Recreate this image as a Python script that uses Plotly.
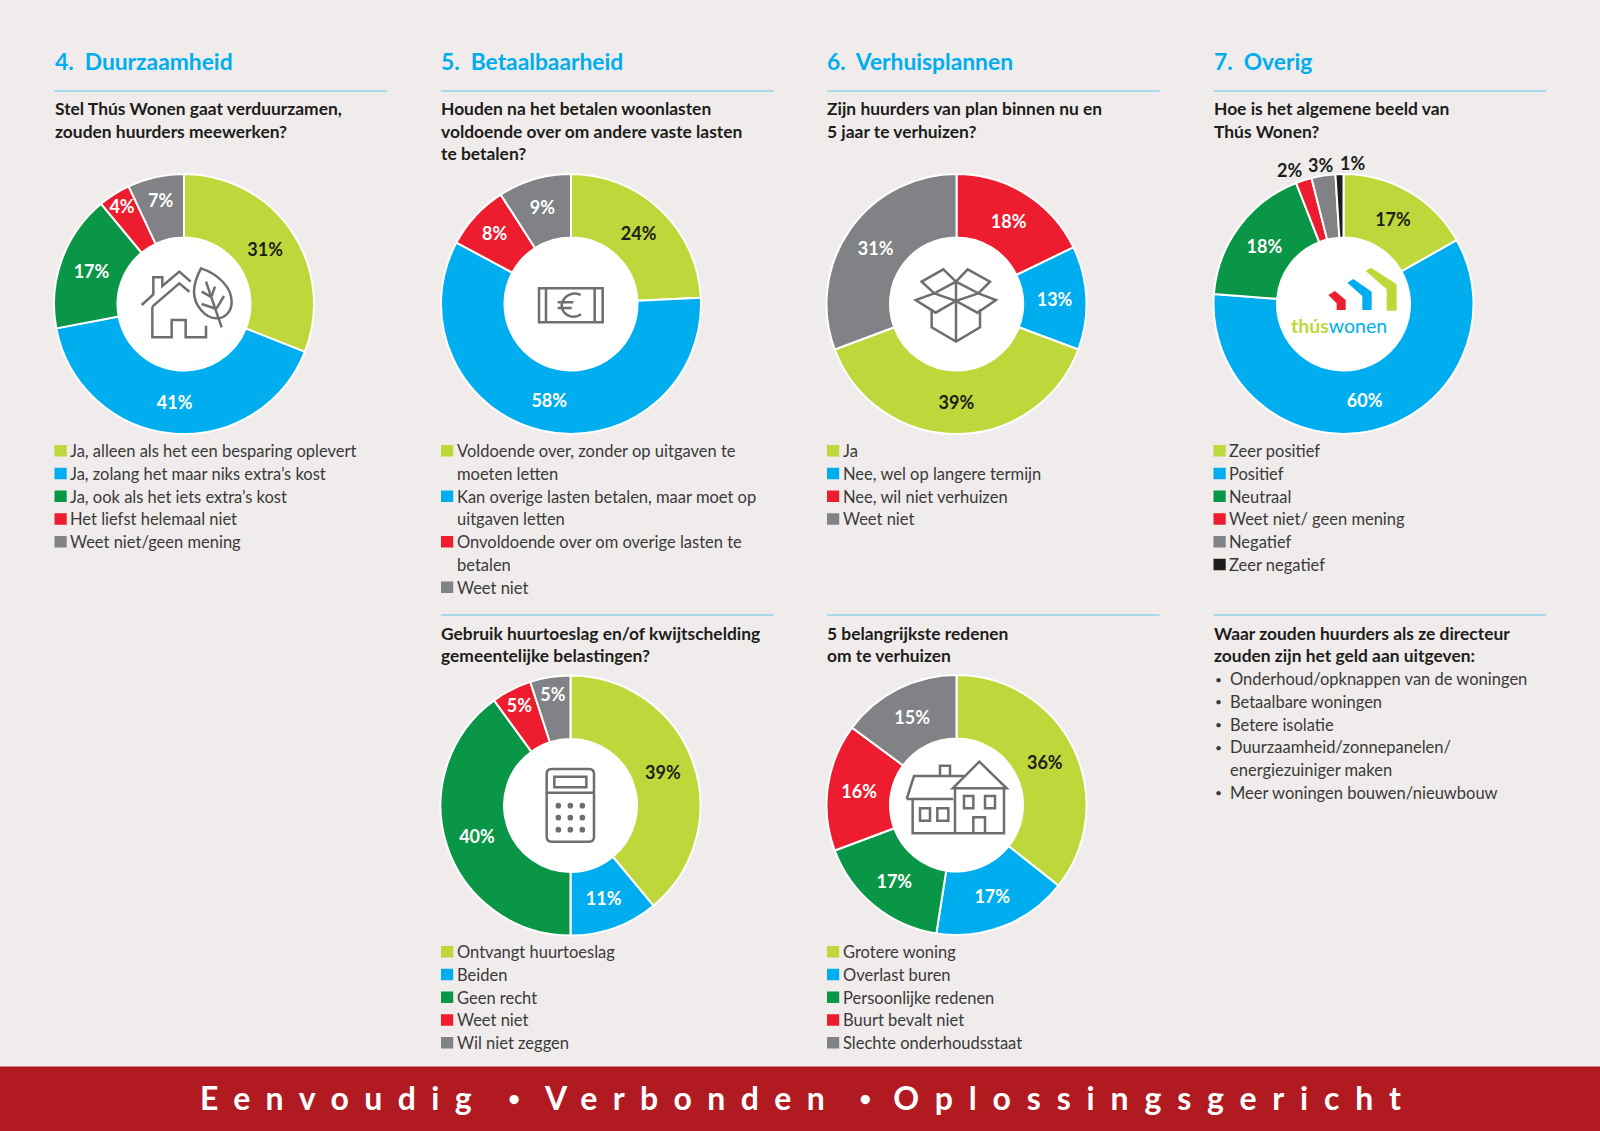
import math
import re
import plotly.graph_objects as go

W, H = 1600, 1131
BG = "#EFECEB"
LIME, BLUE, GREEN, RED, GREY, BLACK = "#BED73B", "#00AEEF", "#0A9647", "#ED1C2E", "#808285", "#1D1D1B"
TXT = "#1D1D1B"
LEG = "#3A3A3A"
ICON = "#6D6E70"
RULE = "#62C5EC"
FONT = "Lato"

# ---------------- data ----------------
titles = ["4.  Duurzaamheid", "5.  Betaalbaarheid", "6.  Verhuisplannen", "7.  Overig"]

q1 = ["Stel Thús Wonen gaat verduurzamen,", "zouden huurders meewerken?"]
labels1 = ["Ja, alleen als het een besparing oplevert", "Ja, zolang het maar niks extra’s kost",
           "Ja, ook als het iets extra’s kost", "Het liefst helemaal niet", "Weet niet/geen mening"]
values1 = [31, 41, 17, 4, 7]
colors1 = [LIME, BLUE, GREEN, RED, GREY]

q2 = ["Houden na het betalen woonlasten", "voldoende over om andere vaste lasten", "te betalen?"]
labels2 = ["Voldoende over, zonder op uitgaven te|moeten letten", "Kan overige lasten betalen, maar moet op|uitgaven letten",
           "Onvoldoende over om overige lasten te|betalen", "Weet niet"]
values2 = [24, 58, 8, 9]
colors2 = [LIME, BLUE, RED, GREY]

q3 = ["Zijn huurders van plan binnen nu en", "5 jaar te verhuizen?"]
labels3 = ["Nee, wil niet verhuizen", "Nee, wel op langere termijn", "Ja", "Weet niet"]
values3 = [18, 13, 39, 31]
colors3 = [RED, BLUE, LIME, GREY]
legend_order3 = [2, 1, 0, 3]

q4 = ["Hoe is het algemene beeld van", "Thús Wonen?"]
labels4 = ["Zeer positief", "Positief", "Neutraal", "Weet niet/ geen mening", "Negatief", "Zeer negatief"]
values4 = [17, 60, 18, 2, 3, 1]
colors4 = [LIME, BLUE, GREEN, RED, GREY, BLACK]

q5 = ["Gebruik huurtoeslag en/of kwijtschelding", "gemeentelijke belastingen?"]
labels5 = ["Ontvangt huurtoeslag", "Beiden", "Geen recht", "Weet niet", "Wil niet zeggen"]
values5 = [39, 11, 40, 5, 5]
colors5 = [LIME, BLUE, GREEN, RED, GREY]

q6 = ["5 belangrijkste redenen", "om te verhuizen"]
labels6 = ["Grotere woning", "Overlast buren", "Persoonlijke redenen", "Buurt bevalt niet", "Slechte onderhoudsstaat"]
values6 = [36, 17, 17, 16, 15]
colors6 = [LIME, BLUE, GREEN, RED, GREY]

q7 = ["Waar zouden huurders als ze directeur", "zouden zijn het geld aan uitgeven:"]
bullets = ["Onderhoud/opknappen van de woningen", "Betaalbare woningen", "Betere isolatie",
           "Duurzaamheid/zonnepanelen/|energiezuiniger maken", "Meer woningen bouwen/nieuwbouw"]
footer_words = ["Eenvoudig", "Verbonden", "Oplossingsgericht"]

# ---------------- layout constants ----------------
COLX = [54.5, 441, 827, 1213.5]
RW = 332.5
R = 130
HOLE = 66.5 / 130
LS = 22.75
QSIZE = 17.4


def fx(x):
    return x / W


def fy(y):
    return 1 - y / H


shapes, ann = [], []


def text(x, y, s, size=16.5, color=LEG, weight=None, anchor="left", family=FONT):
    ann.append(dict(x=fx(x), y=fy(y), xref="paper", yref="paper", text=s, showarrow=False,
                    xanchor=anchor, yanchor="middle", align="left", borderpad=0, borderwidth=0,
                    font=dict(family=family, size=size, color=color, weight=weight or 400)))


def rect(x0, y0, x1, y1, fill):
    shapes.append(dict(type="rect", xref="paper", yref="paper", x0=fx(x0), x1=fx(x1), y0=fy(y1), y1=fy(y0),
                       fillcolor=fill, line=dict(width=0), layer="below"))


def rule(x0, x1, y):
    shapes.append(dict(type="line", xref="paper", yref="paper", x0=fx(x0), x1=fx(x1), y0=fy(y), y1=fy(y),
                       line=dict(color=RULE, width=1.2), layer="below"))


def ipath(d, ox, oy, fill=None, width=2.5, color=ICON, k=1 / 3):
    """Icon outline: d is written in crop units, offset to (ox, oy)."""
    out, i = [], 0
    for tok in re.findall(r"[A-Za-z]|-?[\d.]+", d):
        if tok.isalpha():
            out.append(tok)
        else:
            if i % 2 == 0:
                out.append(f"{fx(ox + float(tok) * k):.6f}")
            else:
                out.append(f"{fy(oy + float(tok) * k):.6f}")
            i += 1
    s = ""
    for t in out:
        s += (t if t.isalpha() else t + " ")
    shapes.append(dict(type="path", xref="paper", yref="paper", path=s, layer="above",
                       fillcolor=fill or "rgba(0,0,0,0)",
                       line=dict(color=color if width else "rgba(0,0,0,0)", width=width)))


def dot(cx, cy, r, ox, oy, color=ICON, k=1 / 3):
    x, y = ox + cx * k, oy + cy * k
    rr = r * k
    shapes.append(dict(type="circle", xref="paper", yref="paper", x0=fx(x - rr), x1=fx(x + rr), y0=fy(y + rr), y1=fy(y - rr),
                       fillcolor=color, line=dict(width=0), layer="above"))


def pie(cx, cy, labels, values, colors, outside=()):
    shapes.append(dict(type="circle", xref="paper", yref="paper", x0=fx(cx - R * HOLE), x1=fx(cx + R * HOLE),
                       y0=fy(cy + R * HOLE), y1=fy(cy - R * HOLE), fillcolor="white", line=dict(width=0), layer="below"))
    return go.Pie(labels=[l.replace("|", " ") for l in labels], values=values, hole=HOLE, sort=False,
                  direction="clockwise", rotation=0, showlegend=False,
                  domain=dict(x=[fx(cx - R), fx(cx + R)], y=[fy(cy + R), fy(cy - R)]),
                  marker=dict(colors=colors, line=dict(color="white", width=2)),
                  texttemplate="%{value}%", insidetextorientation="horizontal",
                  textposition=["none" if i in outside else "inside" for i in range(len(values))],
                  textfont=dict(family=FONT, size=18, weight=700,
                                color=[TXT if c == LIME else "white" for c in colors]),
                  )


def legend(x, y0, labels, colors):
    row = 0
    for lab, c in zip(labels, colors):
        y = y0 + row * LS
        rect(x, y - 6, x + 12.2, y + 5.5, c)
        for ln in lab.split("|"):
            text(x + 15.5, y0 + row * LS, ln)
            row += 1


traces = [
    pie(COLX[0] + R - 0.5, 304, labels1, values1, colors1),
    pie(COLX[1] + R, 304, labels2, values2, colors2),
    pie(COLX[2] + R - 0.5, 304, labels3, values3, colors3),
    pie(COLX[3] + R, 304, labels4, values4, colors4, outside=(3, 4, 5)),
    pie(COLX[1] + R - 0.5, 805.5, labels5, values5, colors5),
    pie(COLX[2] + R - 0.5, 805, labels6, values6, colors6),
]

# Small slices of the fourth donut: label placed just past the rim at each slice's mid-angle
small_idx = [3, 4, 5]
small_nudge = [-11, -1, 13]
small_lift = 141
total4 = sum(values4)
for idx, nudge in zip(small_idx, small_nudge):
    mid = (sum(values4[:idx]) + values4[idx] / 2) / total4 * 2 * math.pi
    text(COLX[3] + R + small_lift * math.sin(mid) + nudge, 304 - small_lift * math.cos(mid), f"{values4[idx]}%",
         size=18, color=TXT, weight=700, anchor="center")

# Headers and rules
for x, t in zip(COLX, titles):
    text(x, 60.5, t, size=22.8, color=BLUE, weight=700)
    rule(x, x + RW, 91)
for x, q in zip(COLX, [q1, q2, q3, q4]):
    for i, ln in enumerate(q):
        text(x, 108.5 + i * 22.6, ln, size=QSIZE, color=TXT, weight=700)
for x, q in zip(COLX[1:], [q5, q6, q7]):
    rule(x, x + RW, 615)
    for i, ln in enumerate(q):
        text(x, 633 + i * 22.6, ln, size=QSIZE, color=TXT, weight=700)

# Legends
legend(COLX[0], 451, labels1, colors1)
legend(COLX[1], 451, labels2, colors2)
legend(COLX[2], 451, [labels3[i] for i in legend_order3], [colors3[i] for i in legend_order3])
legend(COLX[3], 451, labels4, colors4)
legend(COLX[1], 952, labels5, colors5)
legend(COLX[2], 952, labels6, colors6)

# Bullets
row = 0
for b in bullets:
    text(1214.5, 679 + row * 22.75, "•", size=12)
    for ln in b.split("|"):
        text(1229.5, 679 + row * 22.75, ln)
        row += 1

# Footer band
rect(0, 1066.5, W, H, "#B21A22")


def word_span(w, sp):
    return f'<span style="letter-spacing:{sp}px">{w}</span>'


def gap_span(sp):
    return (f'<span style="letter-spacing:{sp}px"> </span>'
            f'<span style="letter-spacing:{sp}px;font-size:21px;baseline-shift:4px"> • </span>'
            f'<span style="letter-spacing:{sp}px"> </span>')


footer = (word_span(footer_words[0], 15.4) + gap_span(4) + word_span(footer_words[1], 15.4)
          + gap_span(3) + word_span(footer_words[2], 15.85))
ann.append(dict(x=fx(808.5), y=fy(1097), xref="paper", yref="paper", text=footer, showarrow=False,
                xanchor="center", yanchor="middle",
                font=dict(family=FONT, size=32, color="white", weight=700)))

# Icons
o = (120, 240)
ipath("M65,195 L100,163 L100,112 L127,112 L127,138 L178,95 L212,125", *o)
ipath("M97,200 L178,130 L208,155", *o)
ipath("M97,200 L97,292 L155,292 L155,240 L197,240 L197,292 L258,292 L258,257", *o)
ipath("M243,85 C290,100 335,140 335,185 C335,215 315,235 290,235 C255,235 222,195 222,155 C222,125 235,100 243,85 Z", *o)
ipath("M258,125 L305,262", *o)
ipath("M245,155 L272,170 M245,192 L290,207 M285,140 L275,168 M312,168 L290,205", *o)

o = (510, 240)
ipath("M87,145 L278,145 L278,247 L87,247 Z M108,145 L108,247 M254,145 L254,247", *o)
ipath("M212,165 C195,155 160,162 155,195 C155,225 190,240 213,223 M143,187 L190,187 M143,204 L185,204", *o)

o = (890, 240)
ipath("M95,125 L160,88 L198,125 L133,160 Z M198,125 L233,88 L300,125 L265,160 Z", *o)
ipath("M133,160 L77,180 L137,218 L198,183 L262,218 L318,180 L265,160 M133,160 L198,183 L265,160", *o)
ipath("M198,125 L198,305 M125,208 L125,262 L198,305 L270,262 L270,208", *o)

o = (505, 740)
ipath("M140,87 L252,87 C262,87 267,92 267,102 L267,290 C267,300 262,305 252,305 L140,305 C130,305 125,300 125,290 L125,102 C125,92 130,87 140,87 Z", *o)
ipath("M148,110 L244,110 L244,142 L148,142 Z M125,158 L267,158", *o)
for dy in (197, 233, 269):
    for dx in (160, 196, 232):
        dot(dx, dy, 8.5, *o)

o = (890, 740)
ipath("M50,177 L72,108 L222,108 M150,106 L150,77 L180,77 L180,106 M50,177 L190,177", *o)
ipath("M68,177 L68,280 L342,280 L342,145 M195,145 L195,280", *o)
ipath("M188,145 L268,65 L350,145 Z", *o)
ipath("M90,205 L120,205 L120,242 L90,242 Z M142,205 L175,205 L175,242 L142,242 Z", *o)
ipath("M222,168 L250,168 L250,205 L222,205 Z M285,168 L315,168 L315,205 L285,205 Z", *o)
ipath("M250,280 L250,232 L285,232 L285,280", *o)

# Logo
o = (1180, 130)
ipath("M445,495 L465,483 L497,510 L497,540 L470,540 L470,520 Z", *o, fill=RED, width=0)
ipath("M502,458 L520,447 L575,485 L575,540 L547,540 L547,498 Z", *o, fill=BLUE, width=0)
ipath("M557,423 L573,413 L650,463 L650,542 L620,542 L620,478 Z", *o, fill=LIME, width=0)
ann.append(dict(x=fx(1339), y=fy(325), xref="paper", yref="paper", showarrow=False, xanchor="center", yanchor="middle",
                text=f'<span style="color:{LIME};font-weight:700">thús</span><span style="color:{BLUE}">wonen</span>',
                font=dict(family=FONT, size=19.5)))

fig = go.Figure(traces)
fig.update_layout(width=W, height=H, margin=dict(l=0, r=0, t=0, b=0, pad=0), autosize=False,
                  paper_bgcolor=BG, plot_bgcolor=BG, shapes=shapes, annotations=ann,
                  font=dict(family=FONT), uniformtext=dict(minsize=18, mode="show"))
fig.write_html("out.html", config=dict(displayModeBar=False),
               post_script="document.body.style.margin='0';document.body.style.background='%s';" % BG)
